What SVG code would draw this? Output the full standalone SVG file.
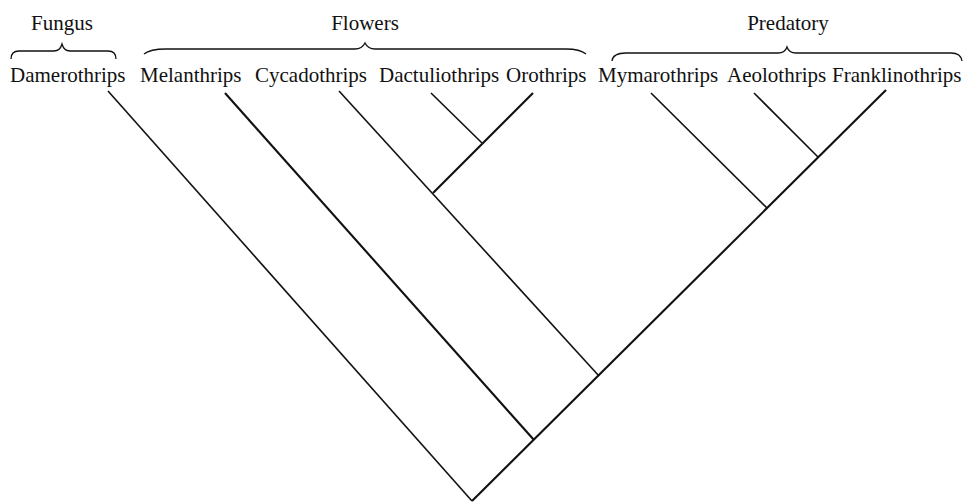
<svg xmlns="http://www.w3.org/2000/svg" width="964" height="502" viewBox="0 0 964 502">
  <style>
    .lbl { font-family: "Liberation Serif", "Times New Roman", serif; font-size: 21px; fill: #111; }
    .grp { font-family: "Liberation Serif", "Times New Roman", serif; font-size: 21px; fill: #111; text-anchor: middle; }
    .brace { fill: none; stroke: #111; stroke-width: 1.3; }
    .edge { stroke: #111; stroke-width: 1.6; stroke-linecap: butt; fill: none; }
    .thick { stroke-width: 2.1; }
  </style>
  <rect width="964" height="502" fill="#fff"/>

  <!-- habitat groups with braces -->
  <g id="group-fungus">
    <text class="grp" x="62" y="30">Fungus</text>
    <path class="brace" d="M11,59 Q11,51 19,51 L54,51 Q60,51 62,44 Q64,51 70,51 L108,51 Q116,51 116,59"/>
  </g>
  <g id="group-flowers">
    <text class="grp" x="365" y="30">Flowers</text>
    <path class="brace" d="M144,54 Q150,49 166,49 L355,49 Q362,49 365,43 Q368,49 375,49 L566,49 Q580,49 586,54"/>
  </g>
  <g id="group-predatory">
    <text class="grp" x="788" y="30">Predatory</text>
    <path class="brace" d="M612,61 Q613,53 626,53 L778,53 Q785,53 787,47 Q789,53 796,53 L951,53 Q961,53 962,61"/>
  </g>

  <!-- taxa -->
  <g id="taxon-damerothrips"><text class="lbl" x="10" y="82">Damerothrips</text></g>
  <g id="taxon-melanthrips"><text class="lbl" x="140" y="82">Melanthrips</text></g>
  <g id="taxon-cycadothrips"><text class="lbl" x="255" y="82">Cycadothrips</text></g>
  <g id="taxon-dactuliothrips"><text class="lbl" x="379" y="82">Dactuliothrips</text></g>
  <g id="taxon-orothrips"><text class="lbl" x="506" y="82">Orothrips</text></g>
  <g id="taxon-mymarothrips"><text class="lbl" x="598" y="82">Mymarothrips</text></g>
  <g id="taxon-aeolothrips"><text class="lbl" x="727" y="82">Aeolothrips</text></g>
  <g id="taxon-franklinothrips"><text class="lbl" x="832" y="82">Franklinothrips</text></g>

  <!-- tree branches -->
  <g id="connectors">
    <line class="edge" x1="108" y1="91" x2="472" y2="501"/>
    <line class="edge thick" x1="225" y1="93" x2="534" y2="440"/>
    <line class="edge" x1="339" y1="91" x2="599" y2="376"/>
    <line class="edge" x1="431" y1="93" x2="482" y2="143"/>
    <line class="edge thick" x1="533" y1="93" x2="433" y2="193"/>
    <line class="edge" x1="651" y1="93" x2="767" y2="208"/>
    <line class="edge" x1="754" y1="93" x2="818" y2="157"/>
    <line class="edge thick" x1="886" y1="90" x2="472" y2="501"/>
  </g>
</svg>
